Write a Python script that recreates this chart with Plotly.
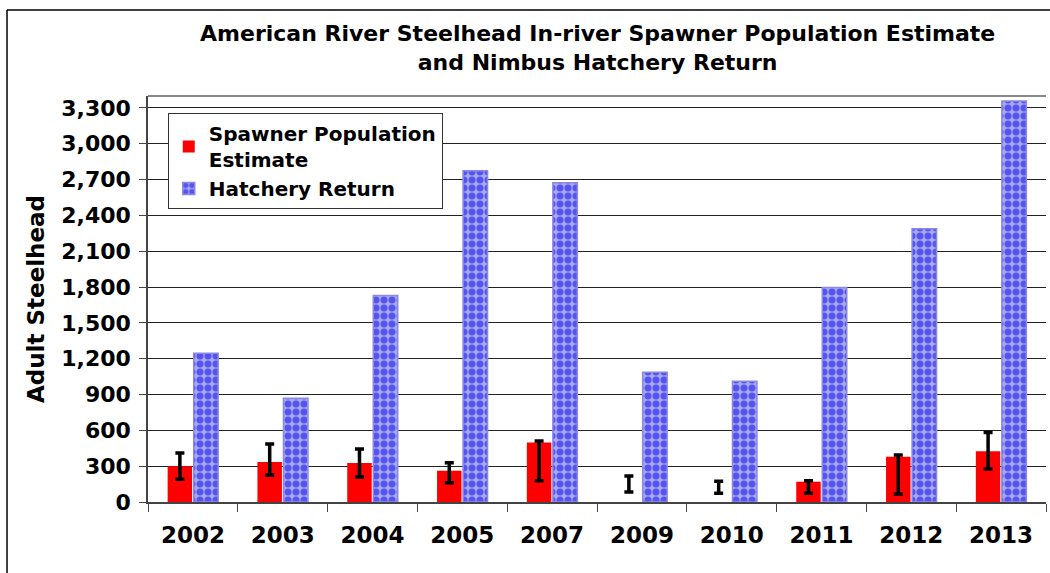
import plotly.graph_objects as go

years = ["2002", "2003", "2004", "2005", "2007", "2009", "2010", "2011", "2012", "2013"]
spawner = [300, 334, 326, 262, 499, 0, 0, 170, 379, 426]
spawner_lower = [190, 226, 209, 161, 178, 84, 73, 73, 67, 276]
spawner_upper = [410, 485, 443, 328, 510, 217, 173, 178, 393, 582]
hatchery = [1245, 869, 1730, 2774, 2673, 1086, 1011, 1796, 2289, 3358]
y_ticks = [0, 300, 600, 900, 1200, 1500, 1800, 2100, 2400, 2700, 3000, 3300]

mid = [(lo + hi) / 2 for lo, hi in zip(spawner_lower, spawner_upper)]
half = [(hi - lo) / 2 for lo, hi in zip(spawner_lower, spawner_upper)]

FONT = "DejaVu Sans, Arial, sans-serif"

fig = go.Figure()
fig.add_trace(go.Bar(
    x=years, y=spawner, name="<b>Spawner Population<br>Estimate</b>",
    marker=dict(color="#ff0000", line=dict(width=0)),
    offsetgroup="spawn",
))
fig.add_trace(go.Bar(
    x=years, y=mid, showlegend=False, hoverinfo="skip",
    marker=dict(color="rgba(0,0,0,0)", line=dict(width=0)),
    error_y=dict(type="data", array=half, visible=True, color="black",
                 thickness=3.5, width=4.5),
    offsetgroup="spawn",
))
fig.add_trace(go.Bar(
    x=years, y=hatchery, name="<b>Hatchery Return</b>",
    marker=dict(color="#ffffff", line=dict(width=1.5, color="#8a8ae0"),
                pattern=dict(shape=".", bgcolor="#a8a8ea", fgcolor="#0000ff",
                             size=8, solidity=0.6)),
    offsetgroup="hatch",
))

fig.update_layout(
    width=1050, height=573,
    margin=dict(l=148, r=4, t=96, b=71),
    paper_bgcolor="white", plot_bgcolor="white",
    barmode="group", bargap=0.42, bargroupgap=0.06,
    font=dict(family=FONT, color="black", size=20),
    title=dict(
        text="<b>American River Steelhead In-river Spawner Population Estimate<br>and Nimbus Hatchery Return</b>",
        x=0.5692, xanchor="center", y=0.9276, yanchor="middle",
        font=dict(family=FONT, size=22, color="black"),
    ),
    legend=dict(
        x=0.022, y=0.958, xanchor="left", yanchor="top",
        bgcolor="white", bordercolor="#333333", borderwidth=1,
        font=dict(family=FONT, size=20, color="black"),
        tracegroupgap=0, entrywidth=258, entrywidthmode="pixels",
    ),
    xaxis=dict(
        type="category", showline=True, linecolor="#444444", linewidth=1.5,
        ticks="outside", tickson="boundaries", ticklen=8, tickcolor="#444444",
        tickfont=dict(family=FONT, size=23, color="black"),
        tickprefix="<b>", ticksuffix="</b>", showgrid=False,
        ticklabelstandoff=12,
    ),
    yaxis=dict(
        range=[0, 3400], tickvals=y_ticks,
        ticktext=[f"<b>{v:,}</b>" for v in y_ticks],
        showline=True, linecolor="#444444", linewidth=1.5,
        ticks="outside", ticklen=7, tickcolor="#444444",
        showgrid=True, gridcolor="#222222", gridwidth=1,
        tickfont=dict(family=FONT, size=22, color="black"),
        ticklabelstandoff=4,
        title=dict(text="<b>Adult Steelhead</b>", font=dict(family=FONT, size=23, color="black"),
                   standoff=10),
        zeroline=False,
    ),
    shapes=[
        dict(type="line", xref="paper", yref="paper", x0=0, x1=1, y0=1, y1=1,
             line=dict(color="#888888", width=2)),
        dict(type="line", xref="paper", yref="paper", x0=-0.157, x1=-0.157, y0=-0.3, y1=1.212,
             line=dict(color="black", width=1.5)),
        dict(type="line", xref="paper", yref="paper", x0=-0.157, x1=1.1, y0=1.212, y1=1.212,
             line=dict(color="black", width=1.5)),
    ],
)

fig.write_html("out.html", config={"displayModeBar": False},
               post_script="document.body.style.margin='0';")
